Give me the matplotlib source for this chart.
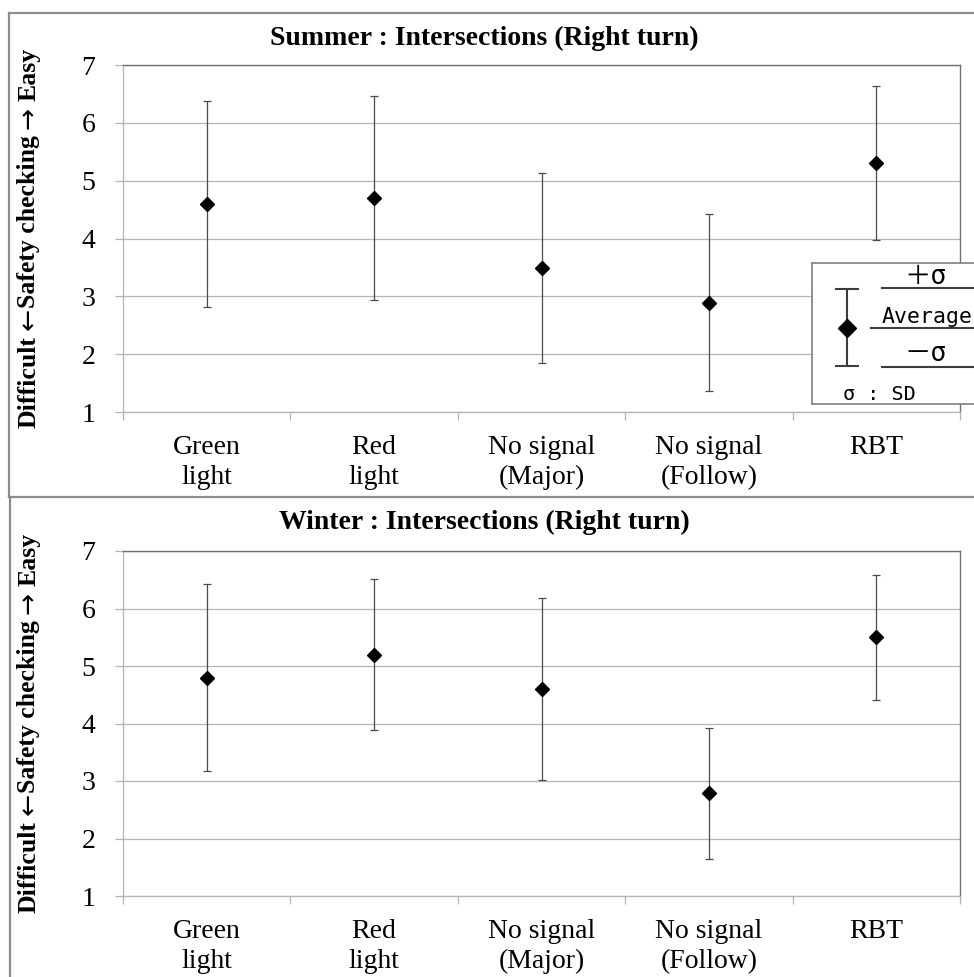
import matplotlib
matplotlib.use("Agg")
from matplotlib import pyplot as plt
from matplotlib.lines import Line2D

# data
categories = ["Green\nlight", "Red\nlight", "No signal\n(Major)", "No signal\n(Follow)", "RBT"]
summer_mean = [4.59, 4.70, 3.49, 2.89, 5.30]
summer_sd = [1.78, 1.76, 1.65, 1.53, 1.33]
winter_mean = [4.80, 5.20, 4.60, 2.79, 5.50]
winter_sd = [1.62, 1.32, 1.58, 1.14, 1.09]
yticks = [1, 2, 3, 4, 5, 6, 7]

titles = ["Summer : Intersections (Right turn)", "Winter : Intersections (Right turn)"]
# y label in pieces so the arrows can come from a font with bigger arrows
ylabel_parts = [("Difficult", "word"), ("\u2190", "arrow"), ("Safety checking", "word"),
                ("\u2192", "arrow"), ("Easy", "word")]
ylabel_gaps = [6, 0, 6, 6]  # px after each piece

serif = ["Liberation Serif", "DejaVu Serif"]
W, H = 974, 977


def fx(x):
    return x / W


def fy(y):
    return 1 - y / H


fig = plt.figure(figsize=(W / 100, H / 100), dpi=100)
renderer = fig.canvas.get_renderer()

# outer frames
frame = "#8c8c8c"
for xs, ys in [([9, 980], [13, 13]), ([9, 9], [13, 497]), ([9, 980], [497, 497]),
               ([10, 10], [497, 980])]:
    fig.add_artist(Line2D([fx(v) for v in xs], [fy(v) for v in ys],
                          transform=fig.transFigure, color=frame, lw=1.6))


def draw_ylabel(xc, yc):
    texts = []
    for s, kind in ylabel_parts:
        if kind == "word":
            t = fig.text(0, 0, s, rotation=90, ha="center", va="bottom",
                         family=serif, fontsize=18.5, fontweight="bold")
        else:
            t = fig.text(0, 0, s, rotation=90, ha="center", va="bottom",
                         family=["DejaVu Sans"], fontsize=19)
        texts.append(t)
    lengths = [t.get_window_extent(renderer).height for t in texts]
    total = sum(lengths) + sum(ylabel_gaps)
    y = yc - total / 2  # pixels from bottom
    for k, t in enumerate(texts):
        t.set_position((fx(xc), y / H))
        y += lengths[k]
        if k < len(ylabel_gaps):
            y += ylabel_gaps[k]


grid = "#b4b4b4"
panels = [
    (summer_mean, summer_sd, 65, 412, 45, 238),
    (winter_mean, winter_sd, 551, 896, 529, 723),
]

for i, (mean, sd, top, bot, title_y, lab_y) in enumerate(panels):
    ax = fig.add_axes([fx(123), fy(bot), (960 - 123) / W, (bot - top) / H])
    x = list(range(len(categories)))
    ax.errorbar(x, mean, yerr=sd, fmt="none", ecolor="#4a4a4a", elinewidth=0.9,
                capsize=2.6, capthick=0.9, zorder=3)
    ax.plot(x, mean, linestyle="none", marker="D", ms=7.3, color="black", zorder=4)

    ax.set_xlim(-0.5, len(categories) - 0.5)
    ax.set_ylim(1, 7)
    ax.set_yticks(yticks)
    ax.set_yticklabels([str(v) for v in yticks], family=serif, fontsize=20)
    ax.set_xticks(x)
    ax.set_xticklabels(categories, family=serif, fontsize=20, linespacing=1.25)
    ax.set_xticks([v - 0.5 for v in range(len(categories) + 1)], minor=True)
    ax.tick_params(axis="x", which="major", length=0, pad=16.5)
    ax.tick_params(axis="x", which="minor", length=6, color=grid, width=0.9)
    ax.tick_params(axis="y", length=6, color=grid, width=0.9, pad=14)

    ax.yaxis.grid(True, color=grid, lw=0.9)
    ax.set_axisbelow(True)
    for s in ["left", "bottom"]:
        ax.spines[s].set_color(grid)
        ax.spines[s].set_linewidth(0.9)
    for s in ["top", "right"]:
        ax.spines[s].set_color("#707070")
        ax.spines[s].set_linewidth(1.0)

    fig.text(fx(484), fy(title_y), titles[i], ha="center", va="baseline",
             family=serif, fontsize=20, fontweight="bold")
    draw_ylabel(29, H - lab_y)

# key box in the summer panel
lax = fig.add_axes([fx(812), fy(404), 170 / W, 141 / H], zorder=5)
lax.set_xlim(0, 170)
lax.set_ylim(141, 0)
lax.set_xticks([])
lax.set_yticks([])
for s in lax.spines.values():
    s.set_color("#808080")
    s.set_linewidth(1.2)

key_col = "#3c3c3c"
lax.errorbar([35], [64.5], yerr=[[38.5], [38.5]], fmt="none", ecolor=key_col,
             elinewidth=1.5, capsize=8.6, capthick=1.5)
lax.plot([35], [64.5], linestyle="none", marker="D", ms=9.2, color="black")
lax.plot([70, 170], [25.3, 25.3], color=key_col, lw=1.5)
lax.plot([59, 170], [64.7, 64.7], color=key_col, lw=1.5)
lax.plot([70, 170], [103.7, 103.7], color=key_col, lw=1.5)

mono = ["DejaVu Sans Mono", "Noto Sans CJK JP"]
lax.text(114, 21, "\uff0b\u03c3", ha="center", va="baseline", family=mono, fontsize=19)
lax.text(70, 59.7, "Average", ha="left", va="baseline", family=mono, fontsize=15.5)
lax.text(114, 98, "\uff0d\u03c3", ha="center", va="baseline", family=mono, fontsize=19)
lax.text(31, 137, "\u03c3 : SD", ha="left", va="baseline", family=mono, fontsize=14.5)

plt.savefig("out.png", dpi=100)
